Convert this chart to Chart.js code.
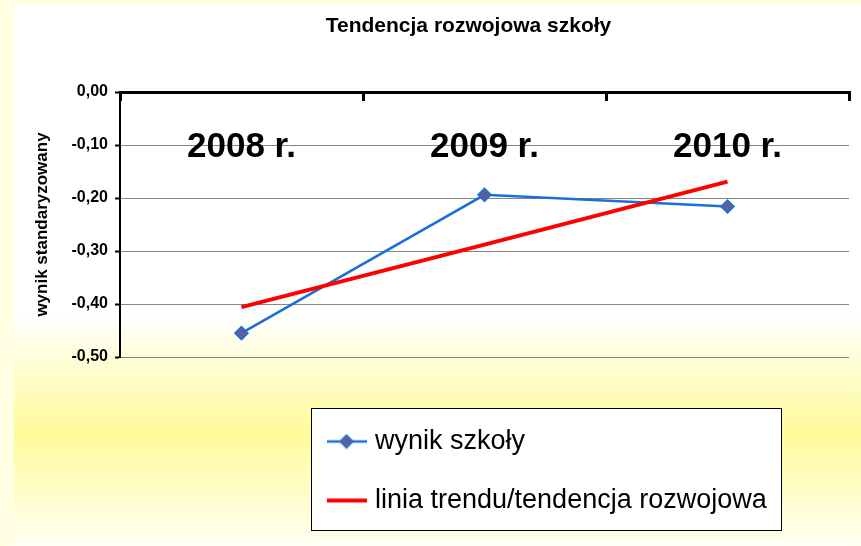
<!DOCTYPE html>
<html><head><meta charset="utf-8">
<script src="https://cdn.jsdelivr.net/npm/chart.js@4.4.1/dist/chart.umd.min.js"></script>
<style>html,body{margin:0;padding:0;background:#FFFFE3;overflow:hidden}canvas{display:block}</style>
</head><body>
<canvas id="c" width="861" height="546"></canvas>
<script>
const categories = ['2008 r.', '2009 r.', '2010 r.'];
const schoolScores = [-0.455, -0.194, -0.216];
const trendValues = [-0.406, -0.288, -0.169];
const yTickValues = [-0.5, -0.4, -0.3, -0.2, -0.1, 0];
const yTickLabels = ['-0,50', '-0,40', '-0,30', '-0,20', '-0,10', '0,00'];
const seriesNames = ['wynik szkoły', 'linia trendu/tendencja rozwojowa'];
const chartTitle = 'Tendencja rozwojowa szkoły';
const yAxisTitle = 'wynik standaryzowany';

const FONT = "'Liberation Sans', Arial, sans-serif";

function makeSample(kind) {
  const c = document.createElement('canvas');
  c.width = 40; c.height = 16;
  const g = c.getContext('2d');
  if (kind === 0) {
    g.strokeStyle = '#1A6FD6'; g.lineWidth = 2.5;
    g.beginPath(); g.moveTo(0, 8); g.lineTo(40, 8); g.stroke();
    g.beginPath(); g.moveTo(13.5, 8); g.lineTo(20, 1.5); g.lineTo(26.5, 8); g.lineTo(20, 14.5); g.closePath();
    g.fillStyle = '#5B5F9E'; g.fill(); g.lineWidth = 1.5; g.stroke();
  } else {
    g.strokeStyle = '#FF0000'; g.lineWidth = 4;
    g.beginPath(); g.moveTo(0, 8); g.lineTo(40, 8); g.stroke();
  }
  return c;
}
const samples = [makeSample(0), makeSample(1)];

const layoutPlugin = {
  id: 'layoutTweaks',
  afterLayout(chart) {
    const lg = chart.legend;
    if (lg) {
      lg.left = 299.5; lg.top = 396; lg.right = 782; lg.bottom = 620;
      lg.width = lg.right - lg.left; lg.height = lg.bottom - lg.top;
    }
    const t = chart.titleBlock;
    if (t) { t.left = 76; t.right = 861; t.width = 785; }
  },
  beforeDraw(chart) {
    const ctx = chart.ctx;
    ctx.save();
    ctx.fillStyle = '#FFFFE3';
    ctx.fillRect(0, 0, chart.width, chart.height);
    const g = ctx.createLinearGradient(0, 6, 0, chart.height);
    g.addColorStop(0, '#FFFFFF');
    g.addColorStop(0.57, '#FFFFFF');
    g.addColorStop(0.79, '#FFFB9A');
    g.addColorStop(1, '#FFFFF3');
    ctx.fillStyle = g;
    ctx.fillRect(14, 6, chart.width - 14, chart.height - 6);
    ctx.fillStyle = '#FFFFFF';
    ctx.fillRect(311, 408, 471, 123);
    ctx.strokeStyle = '#000000';
    ctx.lineWidth = 1;
    ctx.strokeRect(311.5, 408.5, 470, 122);
    ctx.restore();
  }
};

new Chart(document.getElementById('c'), {
  type: 'line',
  data: {
    labels: categories,
    datasets: [
      {
        label: seriesNames[0], data: schoolScores,
        borderColor: '#1A6FD6', backgroundColor: '#5B5F9E', borderWidth: 2.5,
        pointStyle: 'rectRot', pointRadius: 6.5, pointHoverRadius: 6.5,
        pointBackgroundColor: '#5B5F9E', pointBorderColor: '#1A6FD6', pointBorderWidth: 1.5,
        tension: 0, fill: false, order: 1
      },
      {
        label: seriesNames[1], data: trendValues,
        borderColor: '#FF0000', backgroundColor: '#FF0000', borderWidth: 4,
        pointRadius: 0, pointHoverRadius: 0, tension: 0, fill: false, order: 0
      }
    ]
  },
  options: {
    responsive: false,
    animation: false,
    devicePixelRatio: 1,
    layout: { padding: { left: 14, right: 12, top: 0, bottom: 189 } },
    plugins: {
      title: {
        display: true, text: chartTitle, color: '#000',
        font: { family: FONT, size: 21, weight: 'bold' },
        padding: { top: 14, bottom: 10 }
      },
      tooltip: { enabled: false },
      legend: {
        display: true, position: 'chartArea', align: 'start',
        labels: {
          usePointStyle: true, pointStyleWidth: 30, padding: 32,
          color: '#000', font: { family: FONT, size: 27 },
          generateLabels(chart) {
            const items = Chart.defaults.plugins.legend.labels.generateLabels(chart);
            items.forEach(it => { it.pointStyle = samples[it.datasetIndex]; });
            return items;
          },
          sort: (a, b) => a.datasetIndex - b.datasetIndex
        }
      }
    },
    scales: {
      x: {
        type: 'category', position: 'top', offset: true,
        border: { display: true, color: '#000', width: 3 },
        grid: { display: true, offset: true, drawOnChartArea: false, drawTicks: true, tickLength: -9, tickColor: '#000', tickWidth: 3 },
        ticks: { color: '#000', font: { family: FONT, size: 35, weight: 'bold' }, mirror: true, padding: 34, maxRotation: 0, minRotation: 0, autoSkip: false },
        afterFit(s) { s.height = 42.8; }
      },
      y: {
        min: -0.5, max: 0,
        afterBuildTicks(s) { s.ticks = yTickValues.map(v => ({ value: v })); },
        ticks: { callback: (v, i) => yTickLabels[i], color: '#000', font: { family: FONT, size: 16, weight: 'bold' }, padding: 7 },
        grid: { color: '#868686', lineWidth: 1, tickLength: 5, tickColor: '#000', tickWidth: 2 },
        border: { display: true, color: '#000', width: 2 },
        title: { display: true, text: yAxisTitle, color: '#000', font: { family: FONT, size: 17, weight: 'bold' }, padding: { top: 18, bottom: 0 } },
        afterFit(s) { s.width = 106; }
      }
    }
  },
  plugins: [layoutPlugin]
});
</script>
</body></html>
